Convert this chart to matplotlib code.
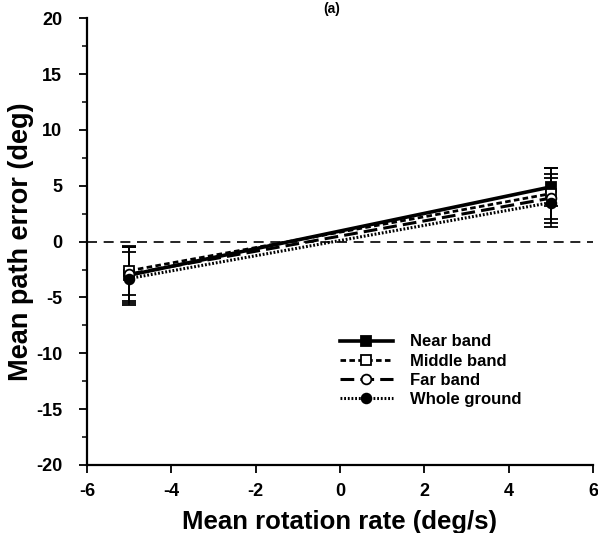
import matplotlib
matplotlib.use("Agg")
import matplotlib.pyplot as plt
from matplotlib.ticker import MultipleLocator
from matplotlib.lines import Line2D

plt.rcParams['font.family'] = ['Liberation Sans', 'DejaVu Sans']
plt.rcParams['font.weight'] = 'bold'
plt.rcParams['axes.unicode_minus'] = False

rates = [-5, 5]
series_names = ["Near band", "Middle band", "Far band", "Whole ground"]
near = [-3.0, 4.9]
near_err = [2.5, 1.7]
middle = [-2.6, 4.3]
middle_err = [2.2, 2.3]
far = [-2.9, 3.9]
far_err = [2.4, 2.2]
whole = [-3.3, 3.5]
whole_err = [2.4, 2.2]
xticks = [-6, -4, -2, 0, 2, 4, 6]
yticks = [-20, -15, -10, -5, 0, 5, 10, 15, 20]

fig = plt.figure(figsize=(5.98, 5.33), dpi=100)
ax = fig.add_axes([0.1455, 0.1276, 0.846, 0.838])

styles = [
    dict(ls='-', lw=2.6, marker='s', mfc='black', mec='black', ms=7),
    dict(ls=(0, (2.0, 1.2)), lw=2.0, marker='s', mfc='white', mec='black', ms=7),
    dict(ls=(0, (4.5, 2.0)), lw=2.2, marker='o', mfc='white', mec='black', ms=7),
    dict(ls=(0, (0.6, 0.6)), lw=2.2, marker='o', mfc='black', mec='black', ms=7),
]
data = [(near, near_err), (middle, middle_err), (far, far_err), (whole, whole_err)]

ax.axhline(0, color='black', lw=1.2, ls=(0, (6, 4)), zorder=1)

handles = []
for name, (vals, errs), st in zip(series_names, data, styles):
    ax.errorbar(rates, vals, yerr=errs, color='black', capsize=5, elinewidth=1.2,
                capthick=1.4, mew=1.3, **st)
    handles.append(Line2D([], [], color='black', mew=1.3, label=name, **st))

ax.set_xlim(-6, 6)
ax.set_ylim(-20, 20)
ax.set_xticks(xticks)
ax.set_yticks(yticks)
ax.yaxis.set_minor_locator(MultipleLocator(2.5))
ax.tick_params(axis='both', which='major', direction='out', length=6, width=1.3, labelsize=13)
ax.tick_params(axis='x', which='major', pad=7)
ax.tick_params(axis='y', which='major', pad=12)
ax.tick_params(axis='y', which='minor', direction='out', length=3.5, width=1.1)
for lab in ax.get_xticklabels() + ax.get_yticklabels():
    lab.set_fontweight('bold')
for s in ['top', 'right']:
    ax.spines[s].set_visible(False)
for s in ['left', 'bottom']:
    ax.spines[s].set_linewidth(1.6)

ax.set_xlabel("Mean rotation rate (deg/s)", fontsize=18.5, fontweight='bold', labelpad=7)
ax.set_ylabel("Mean path error (deg)", fontsize=19.5, fontweight='bold', labelpad=1)

ax.legend(handles=handles, loc='upper left', bbox_to_anchor=(0.47, 0.326), frameon=False,
          handlelength=3.2, handletextpad=1.0, labelspacing=0.25,
          prop={'weight': 'bold', 'size': 12})

fig.text(0.555, 0.997, "(a)", ha='center', va='top', fontsize=10, fontweight='bold')

fig.savefig("out.png", dpi=100)
